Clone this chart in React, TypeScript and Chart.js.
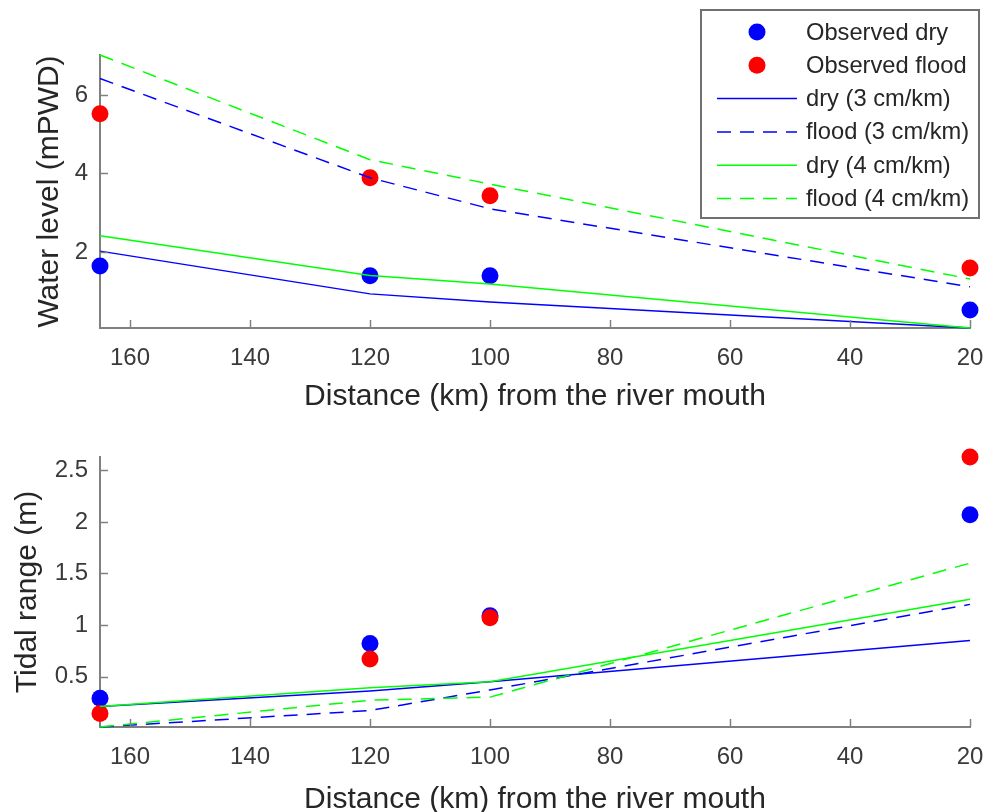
import React, { useEffect, useRef } from 'react';
import { Chart, registerables } from 'chart.js';

Chart.register(...registerables);

// ---------- data ----------
const distanceKm = [165, 120, 100, 20];
const xTickValues = [160, 140, 120, 100, 80, 60, 40, 20];
const wlTickValues = [2, 4, 6];
const trTickValues = [0.5, 1, 1.5, 2, 2.5];

// Water level (mPWD)
const obsDryWL = [1.64, 1.39, 1.39, 0.52];
const obsFloodWL = [5.52, 3.89, 3.43, 1.59];
const dry3WL = [2.02, 0.93, 0.72, 0.06];
const flood3WL = [6.42, 3.89, 3.1, 1.11];
const dry4WL = [2.41, 1.4, 1.18, 0.06];
const flood4WL = [7.02, 4.35, 3.73, 1.31];

// Tidal range (m)
const obsDryTR = [0.29, 0.82, 1.09, 2.07];
const obsFloodTR = [0.14, 0.67, 1.07, 2.63];
const dry3TR = [0.21, 0.36, 0.45, 0.85];
const flood3TR = [0.01, 0.17, 0.37, 1.2];
const dry4TR = [0.21, 0.39, 0.45, 1.25];
const flood4TR = [0.01, 0.27, 0.3, 1.6];

const legendLabels = [
  'Observed dry',
  'Observed flood',
  'dry (3 cm/km)',
  'flood (3 cm/km)',
  'dry (4 cm/km)',
  'flood (4 cm/km)',
];

const xTitle = 'Distance (km) from the river mouth';
const wlTitle = 'Water level (mPWD)';
const trTitle = 'Tidal range (m)';

// ---------- styles ----------
const FONT = '"Liberation Sans", Arial, Helvetica, sans-serif';
const BLUE = 'rgb(0,0,255)';
const RED = 'rgb(255,0,0)';
const GREEN = 'rgb(0,255,0)';
const AXIS = '#808080';
const TICK_TXT = '#3a3a3a';
const TITLE_TXT = '#262626';
const DASH = [14, 9];

function pts(ys: number[]) {
  return distanceKm.map((x, i) => ({ x, y: ys[i] }));
}

function makeDatasets(
  obsDry: number[], obsFlood: number[],
  d3: number[], f3: number[], d4: number[], f4: number[]
) {
  const dot = (label: string, ys: number[], color: string, order: number) => ({
    label, data: pts(ys), showLine: false, pointRadius: 8.5, pointHoverRadius: 8.5,
    pointBorderWidth: 0, pointBackgroundColor: color, backgroundColor: color,
    borderColor: color, order, clip: false,
  });
  const line = (label: string, ys: number[], color: string, dashed: boolean, order: number) => ({
    label, data: pts(ys), showLine: true, pointRadius: 0, pointHoverRadius: 0,
    borderColor: color, backgroundColor: color, borderWidth: 1.5,
    borderDash: dashed ? DASH : [], tension: 0, fill: false, order, clip: false,
  });
  return [
    dot(legendLabels[0], obsDry, BLUE, 6),
    dot(legendLabels[1], obsFlood, RED, 5),
    line(legendLabels[2], d3, BLUE, false, 4),
    line(legendLabels[3], f3, BLUE, true, 3),
    line(legendLabels[4], d4, GREEN, false, 2),
    line(legendLabels[5], f4, GREEN, true, 1),
  ];
}

const inwardTicks = {
  id: 'inwardTicks',
  afterDatasetsDraw(chart: any) {
    const { ctx, chartArea } = chart;
    const xs = chart.scales.x;
    const ys = chart.scales.y;
    ctx.save();
    ctx.strokeStyle = AXIS;
    ctx.lineWidth = 1.5;
    xs.ticks.forEach((t: any) => {
      const px = Math.round(xs.getPixelForValue(t.value)) + 0.5;
      ctx.beginPath();
      ctx.moveTo(px, chartArea.bottom);
      ctx.lineTo(px, chartArea.bottom - 8);
      ctx.stroke();
    });
    ys.ticks.forEach((t: any) => {
      const py = Math.round(ys.getPixelForValue(t.value)) + 0.5;
      ctx.beginPath();
      ctx.moveTo(chartArea.left, py);
      ctx.lineTo(chartArea.left + 8, py);
      ctx.stroke();
    });
    ctx.restore();
  },
};

const matlabLegend = {
  id: 'matlabLegend',
  afterDraw(chart: any) {
    const { ctx } = chart;
    const boxX = 701, boxY = 10, boxW = 278, boxH = 208;
    const lineX0 = 717, lineX1 = 797, markerX = 757, textX = 806;
    const rowY0 = 32, rowStep = 33.3;
    ctx.save();
    ctx.fillStyle = '#ffffff';
    ctx.fillRect(boxX, boxY, boxW, boxH);
    ctx.strokeStyle = '#707070';
    ctx.lineWidth = 2;
    ctx.strokeRect(boxX, boxY, boxW, boxH);
    chart.data.datasets.forEach((ds: any, i: number) => {
      const y = rowY0 + i * rowStep;
      if (ds.showLine === false) {
        ctx.beginPath();
        ctx.fillStyle = ds.pointBackgroundColor;
        ctx.arc(markerX, y, ds.pointRadius, 0, Math.PI * 2);
        ctx.fill();
      } else {
        ctx.beginPath();
        ctx.strokeStyle = ds.borderColor;
        ctx.lineWidth = ds.borderWidth;
        ctx.setLineDash(ds.borderDash || []);
        ctx.moveTo(lineX0, y);
        ctx.lineTo(lineX1, y);
        ctx.stroke();
        ctx.setLineDash([]);
      }
      ctx.fillStyle = TITLE_TXT;
      ctx.font = `23.7px ${FONT}`;
      ctx.textAlign = 'left';
      ctx.textBaseline = 'middle';
      ctx.fillText(ds.label, textX, y + 1);
    });
    ctx.restore();
  },
};

function buildConfig(opts: {
  datasets: any[]; yTicks: number[]; yTitle: string; yMin: number; yMax: number;
  padTop: number; xAxisHeight: number; xTitleBottom: number; yTitlePad: number;
  legend: boolean;
}) {
  return {
    type: 'line' as const,
    data: { datasets: opts.datasets },
    plugins: opts.legend ? [inwardTicks, matlabLegend] : [inwardTicks],
    options: {
      responsive: false,
      animation: false,
      events: [],
      layout: { padding: { left: 0, right: 16, top: opts.padTop, bottom: 0 } },
      plugins: { legend: { display: false }, tooltip: { enabled: false } },
      scales: {
        x: {
          type: 'linear',
          reverse: true,
          min: 20,
          max: 165,
          afterBuildTicks: (s: any) => { s.ticks = xTickValues.map((v) => ({ value: v })); },
          afterFit: (s: any) => { s.height = opts.xAxisHeight; s.paddingLeft = 0; s.paddingRight = 0; },
          grid: { display: false, drawTicks: false },
          border: { display: true, color: AXIS, width: 2 },
          ticks: {
            color: TICK_TXT, font: { family: FONT, size: 24 }, padding: 16,
            maxRotation: 0, autoSkip: false, callback: (v: any) => String(v),
          },
          title: {
            display: true, text: xTitle, color: TITLE_TXT,
            font: { family: FONT, size: 30, lineHeight: 1 },
            padding: { top: 0, bottom: opts.xTitleBottom },
          },
        },
        y: {
          type: 'linear',
          min: opts.yMin,
          max: opts.yMax,
          afterBuildTicks: (s: any) => { s.ticks = opts.yTicks.map((v) => ({ value: v })); },
          afterFit: (s: any) => { s.width = 100; s.paddingTop = 0; s.paddingBottom = 0; },
          grid: { display: false, drawTicks: false },
          border: { display: true, color: AXIS, width: 2 },
          ticks: {
            color: TICK_TXT, font: { family: FONT, size: 24 }, padding: 12,
            autoSkip: false, callback: (v: any) => String(v),
          },
          title: {
            display: true, text: opts.yTitle, color: TITLE_TXT,
            font: { family: FONT, size: 30, lineHeight: 1 },
            padding: { top: opts.yTitlePad, bottom: 0 },
          },
        },
      },
    },
  };
}

export default function App() {
  const topRef = useRef<HTMLCanvasElement>(null);
  const botRef = useRef<HTMLCanvasElement>(null);

  useEffect(() => {
    const wlAll = [...obsDryWL, ...obsFloodWL, ...dry3WL, ...flood3WL, ...dry4WL, ...flood4WL];
    const trAll = [...obsDryTR, ...obsFloodTR, ...dry3TR, ...flood3TR, ...dry4TR, ...flood4TR];
    const top = new Chart(topRef.current as HTMLCanvasElement, buildConfig({
      datasets: makeDatasets(obsDryWL, obsFloodWL, dry3WL, flood3WL, dry4WL, flood4WL),
      yTicks: wlTickValues, yTitle: wlTitle,
      yMin: Math.min(...wlAll), yMax: Math.max(...wlAll),
      padTop: 55, xAxisHeight: 92, xTitleBottom: 8, yTitlePad: 35, legend: true,
    }) as any);
    const bot = new Chart(botRef.current as HTMLCanvasElement, buildConfig({
      datasets: makeDatasets(obsDryTR, obsFloodTR, dry3TR, flood3TR, dry4TR, flood4TR),
      yTicks: trTickValues, yTitle: trTitle,
      yMin: Math.min(...trAll), yMax: Math.max(...trAll),
      padTop: 37, xAxisHeight: 85, xTitleBottom: -3, yTitlePad: 13, legend: false,
    }) as any);
    return () => { top.destroy(); bot.destroy(); };
  }, []);

  return (
    <div style={{ position: 'absolute', left: 0, top: 0, width: 986, height: 812, background: '#ffffff' }}>
      <canvas ref={topRef} width={986} height={420} style={{ display: 'block' }} />
      <canvas ref={botRef} width={986} height={392} style={{ display: 'block' }} />
    </div>
  );
}
